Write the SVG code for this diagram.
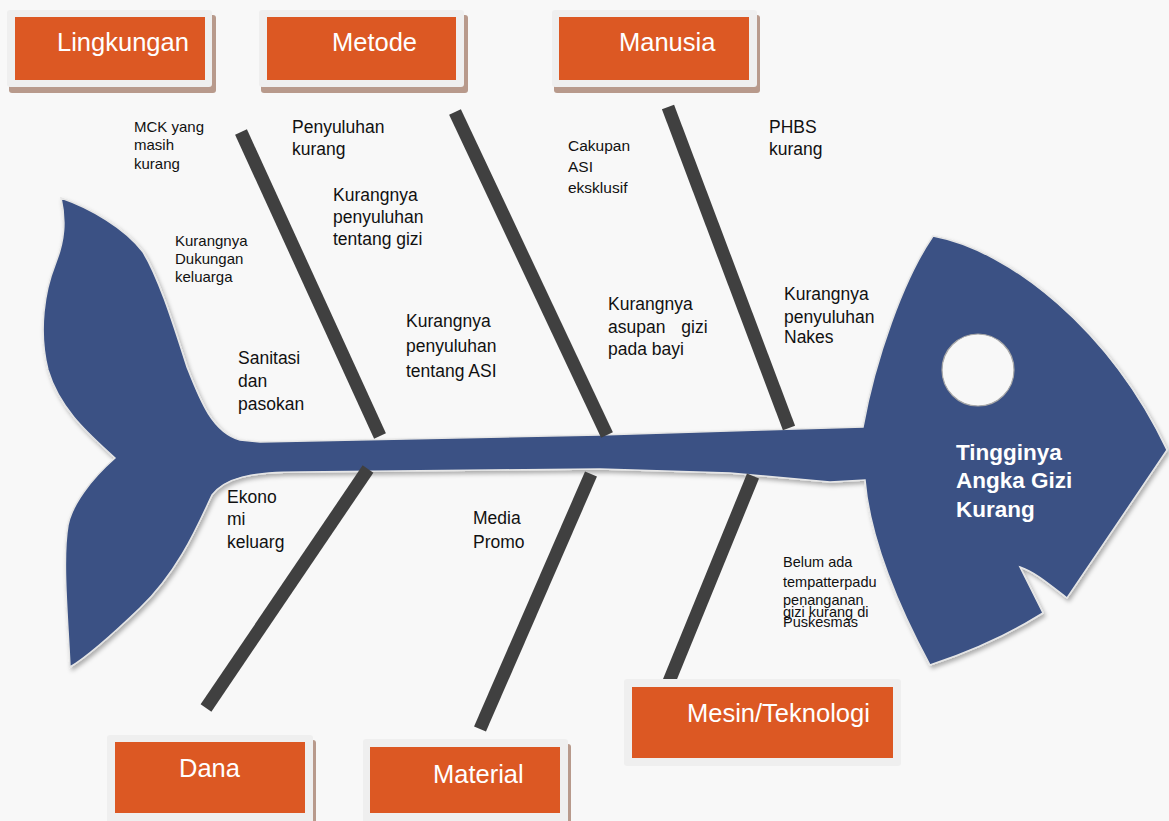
<svg xmlns="http://www.w3.org/2000/svg" width="1169" height="821" viewBox="0 0 1169 821">
<defs>
<style>
.frame{fill:#efefef}
.shadow{fill:#b89a8c}
.box{fill:#dc5823}
.blbl{font-family:"Liberation Sans",Arial,sans-serif;font-size:25.5px;fill:#ffffff}
.lbl{font-family:"Liberation Sans",Arial,sans-serif;font-size:17.5px;fill:#111111}
.sm{font-size:15px}
.xs{font-size:14.5px}
.bone{stroke:#404040;stroke-width:13;fill:none}
.title{font-family:"Liberation Sans",Arial,sans-serif;font-size:22.5px;font-weight:bold;fill:#ffffff}
</style>
<filter id="ds" x="-5%" y="-5%" width="110%" height="115%">
<feDropShadow dx="2" dy="3" stdDeviation="2" flood-color="#000" flood-opacity="0.3"/>
</filter>
</defs>
<rect width="1169" height="821" fill="#f8f8f8"/>

<g id="fish">
<path filter="url(#ds)" fill="#3a5184" stroke="#e6e6e6" stroke-width="1.5" d="M61,198 C90,208 125,228 143,252 C160,280 175,330 187,367 C200,400 212,432 240,440 L260,442 L600,435 L863,427 C875,360 903,280 933,236 C1010,250 1110,330 1167,450 L1067,598 C1050,585 1035,572 1020,567 L1043,613 C1000,640 960,655 930,665 C900,610 870,540 865,480 L830,482 L730,473 L600,469 L300,472 C250,472 225,478 212,495 C200,520 180,570 140,608 C115,632 90,655 70,667 C68,620 62,560 68,525 C72,505 90,480 115,458 C90,435 60,410 48,370 C38,330 45,290 55,265 C65,240 66,220 61,198 Z"/>
<circle cx="978" cy="370" r="36" fill="#f8f8f8" stroke="#a8a8a8" stroke-width="1.2"/>
</g>

<g id="connectors">
<line class="bone" x1="241" y1="132" x2="380" y2="436"/>
<line class="bone" x1="455" y1="112" x2="607" y2="435"/>
<line class="bone" x1="668" y1="107" x2="789" y2="428"/>
<line class="bone" x1="368" y1="469" x2="206" y2="708"/>
<line class="bone" x1="591" y1="474" x2="480" y2="729"/>
<line class="bone" x1="753" y1="476" x2="668" y2="684"/>
</g>

<g id="effect">
<text class="title"><tspan x="956" y="460">Tingginya</tspan><tspan x="956" y="488">Angka Gizi</tspan><tspan x="956" y="517">Kurang</tspan></text>
</g>

<g id="lingkungan">
<rect class="shadow" x="9" y="15" width="207" height="78" rx="3"/>
<rect class="frame" x="7" y="10" width="205" height="77" rx="3"/>
<rect class="box" x="15" y="17" width="190" height="63"/>
<text class="blbl" x="57" y="51">Lingkungan</text>
</g>
<g id="metode">
<rect class="shadow" x="261" y="15" width="207" height="78" rx="3"/>
<rect class="frame" x="259" y="10" width="205" height="77" rx="3"/>
<rect class="box" x="267" y="17" width="189" height="63"/>
<text class="blbl" x="332" y="51">Metode</text>
</g>
<g id="manusia">
<rect class="shadow" x="554" y="15" width="206" height="78" rx="3"/>
<rect class="frame" x="552" y="10" width="205" height="77" rx="3"/>
<rect class="box" x="559" y="17" width="190" height="63"/>
<text class="blbl" x="619" y="51">Manusia</text>
</g>
<g id="dana">
<rect class="shadow" x="110" y="740" width="206" height="90" rx="3"/>
<rect class="frame" x="107" y="735" width="206" height="95" rx="3"/>
<rect class="box" x="115" y="742" width="190" height="71"/>
<text class="blbl" x="179" y="777">Dana</text>
</g>
<g id="material">
<rect class="shadow" x="366" y="744" width="205" height="90" rx="3"/>
<rect class="frame" x="363" y="739" width="205" height="95" rx="3"/>
<rect class="box" x="370" y="747" width="190" height="66"/>
<text class="blbl" x="433" y="783">Material</text>
</g>
<g id="mesin">
<rect class="frame" x="624" y="679" width="277" height="87" rx="3"/>
<rect class="box" x="632" y="687" width="261" height="71"/>
<text class="blbl" x="687" y="722">Mesin/Teknologi</text>
</g>

<g id="label-mck"><text class="lbl sm"><tspan x="134" y="132">MCK yang</tspan><tspan x="134" y="150">masih</tspan><tspan x="134" y="169">kurang</tspan></text></g>
<g id="label-penyuluhan-kurang"><text class="lbl"><tspan x="292" y="133">Penyuluhan</tspan><tspan x="292" y="155">kurang</tspan></text></g>
<g id="label-penyuluhan-gizi"><text class="lbl"><tspan x="333" y="201">Kurangnya</tspan><tspan x="333" y="223">penyuluhan</tspan><tspan x="333" y="245">tentang gizi</tspan></text></g>
<g id="label-dukungan"><text class="lbl sm"><tspan x="175" y="246">Kurangnya</tspan><tspan x="175" y="264">Dukungan</tspan><tspan x="175" y="282">keluarga</tspan></text></g>
<g id="label-sanitasi"><text class="lbl"><tspan x="238" y="364">Sanitasi</tspan><tspan x="238" y="387">dan</tspan><tspan x="238" y="410">pasokan</tspan></text></g>
<g id="label-ekonomi"><text class="lbl"><tspan x="227" y="503">Ekono</tspan><tspan x="227" y="525">mi</tspan><tspan x="227" y="548">keluarg</tspan></text></g>
<g id="label-penyuluhan-asi"><text class="lbl"><tspan x="406" y="327">Kurangnya</tspan><tspan x="406" y="352">penyuluhan</tspan><tspan x="406" y="377">tentang ASI</tspan></text></g>
<g id="label-cakupan"><text class="lbl" style="font-size:15.5px"><tspan x="568" y="151">Cakupan</tspan><tspan x="568" y="172">ASI</tspan><tspan x="568" y="193">eksklusif</tspan></text></g>
<g id="label-phbs"><text class="lbl"><tspan x="769" y="133">PHBS</tspan><tspan x="769" y="155">kurang</tspan></text></g>
<g id="label-asupan"><text class="lbl"><tspan x="608" y="310">Kurangnya</tspan><tspan x="608" y="333" word-spacing="11">asupan gizi</tspan><tspan x="608" y="355">pada bayi</tspan></text></g>
<g id="label-nakes"><text class="lbl"><tspan x="784" y="300">Kurangnya</tspan><tspan x="784" y="323">penyuluhan</tspan><tspan x="784" y="343">Nakes</tspan></text></g>
<g id="label-media"><text class="lbl"><tspan x="473" y="524">Media</tspan><tspan x="473" y="548">Promo</tspan></text></g>
<g id="label-belum"><text class="lbl xs"><tspan x="783" y="567">Belum ada</tspan><tspan x="783" y="587">tempatterpadu</tspan><tspan x="783" y="605">penanganan</tspan><tspan x="783" y="617">gizi kurang di</tspan><tspan x="783" y="627">Puskesmas</tspan></text></g>
</svg>
